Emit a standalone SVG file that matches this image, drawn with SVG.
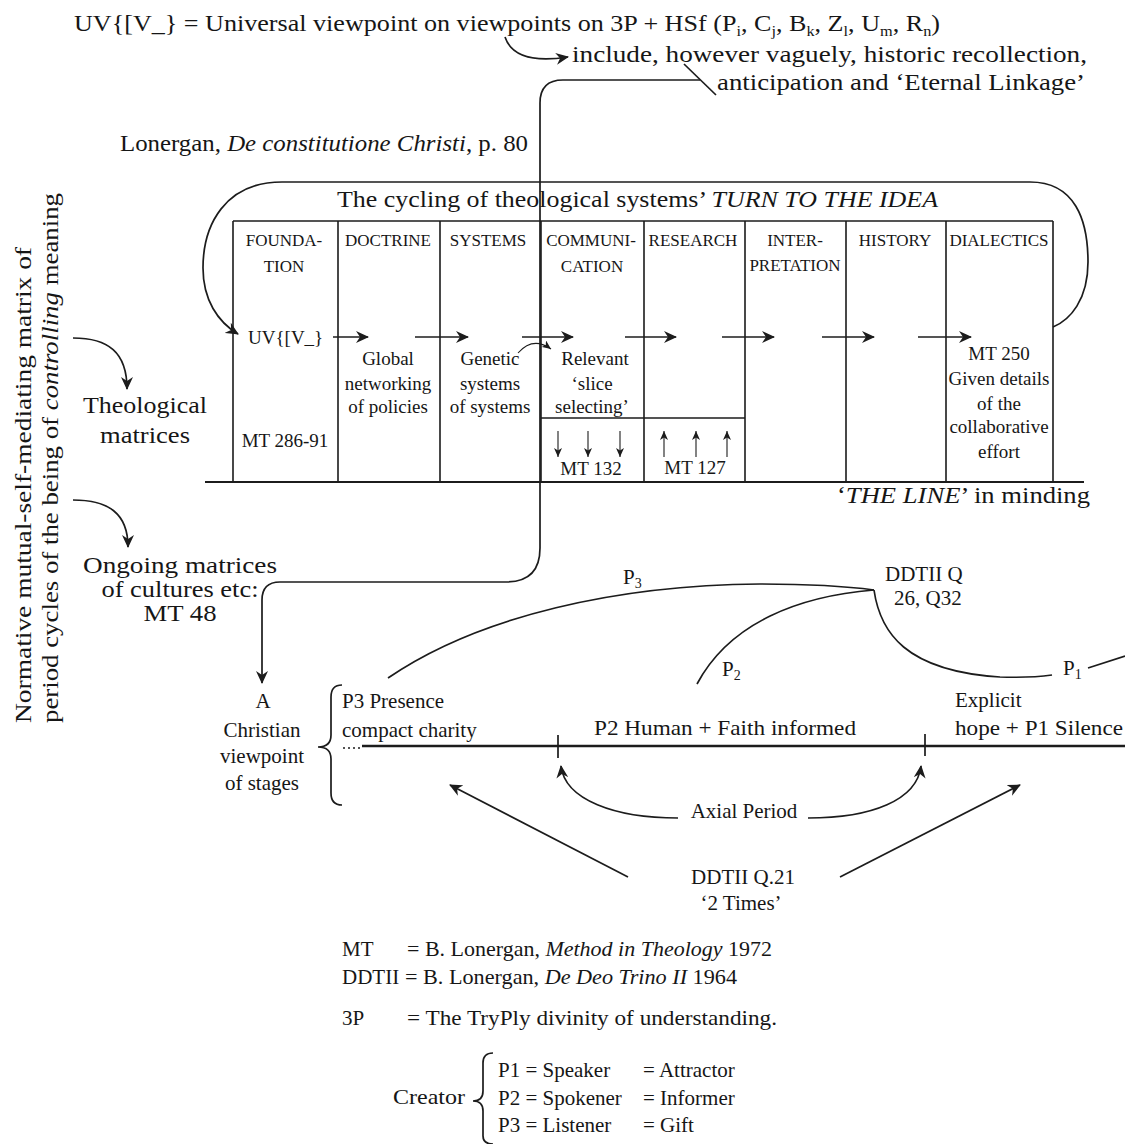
<svg xmlns="http://www.w3.org/2000/svg" width="1125" height="1144" viewBox="0 0 1125 1144">
<defs>
<style>
text{font-family:"Liberation Serif","Times New Roman",serif;fill:#161616}
.m{font-size:24px}
.c{font-size:19px}
.h{font-size:17px}
.s{font-size:21px}
.mid{text-anchor:middle}
.end{text-anchor:end}
.i{font-style:italic}
.ln{fill:none;stroke:#1c1c1c;stroke-width:1.7}
.tb{fill:none;stroke:#1c1c1c;stroke-width:1.6}
.thin{fill:none;stroke:#1c1c1c;stroke-width:1.1}
.ar{marker-end:url(#ah)}
.as{marker-end:url(#ahs)}
</style>
<marker id="ah" markerUnits="userSpaceOnUse" markerWidth="14" markerHeight="12" refX="12" refY="6" orient="auto"><path d="M0,0 L13,6 L0,12 L4,6 Z" fill="#1c1c1c"/></marker>
<marker id="ahs" markerUnits="userSpaceOnUse" markerWidth="10" markerHeight="8" refX="9" refY="4" orient="auto"><path d="M0,0 L9,4 L0,8 L2.5,4 Z" fill="#1c1c1c"/></marker>
</defs>
<rect width="1125" height="1144" fill="#ffffff"/>

<g id="title">
<text class="m" x="74" y="31" textLength="866" lengthAdjust="spacingAndGlyphs">UV{[V_} = Universal viewpoint on viewpoints on 3P + HSf (P<tspan font-size="15" dy="5">i</tspan><tspan dy="-5">, C</tspan><tspan font-size="15" dy="5">j</tspan><tspan dy="-5">, B</tspan><tspan font-size="15" dy="5">k</tspan><tspan dy="-5">, Z</tspan><tspan font-size="15" dy="5">l</tspan><tspan dy="-5">, U</tspan><tspan font-size="15" dy="5">m</tspan><tspan dy="-5">, R</tspan><tspan font-size="15" dy="5">n</tspan><tspan dy="-5">)</tspan></text>
</g>
<g id="note-include">
<text class="m" x="572" y="62" textLength="515" lengthAdjust="spacingAndGlyphs">include, however vaguely, historic recollection,</text>
<text class="m end" x="1085" y="90" textLength="368" lengthAdjust="spacingAndGlyphs">anticipation and ‘Eternal Linkage’</text>
</g>
<g id="source">
<text class="m" x="120" y="151" textLength="408" lengthAdjust="spacingAndGlyphs">Lonergan, <tspan class="i">De constitutione Christi</tspan>, p. 80</text>
</g>

<g id="cycle-title">
<text class="m" x="337" y="207" textLength="601" lengthAdjust="spacingAndGlyphs">The cycling of theological systems’ <tspan class="i">TURN TO THE IDEA</tspan></text>
</g>

<g id="table">
<path class="tb" d="M233,221 H1053 M233,221 V482 M338,221 V482 M440,221 V482 M541,221 V482 M644,221 V482 M745,221 V482 M846,221 V482 M946,221 V482 M1053,221 V482 M541,418 H745"/>
<path fill="none" stroke="#1c1c1c" stroke-width="2.2" d="M205,482 H1084"/>
</g>

<g id="col-foundation">
<text class="h mid" x="284" y="246">FOUNDA-</text>
<text class="h mid" x="284" y="272">TION</text>
<text class="c" x="248" y="344" font-size="20">UV{[V_}</text>
<text class="c mid" x="285" y="447">MT 286-91</text>
</g>
<g id="col-doctrine">
<text class="h mid" x="388" y="246">DOCTRINE</text>
<text class="c mid" x="388" y="365">Global</text>
<text class="c mid" x="388" y="390">networking</text>
<text class="c mid" x="388" y="413">of policies</text>
</g>
<g id="col-systems">
<text class="h mid" x="488" y="246">SYSTEMS</text>
<text class="c mid" x="490" y="365">Genetic</text>
<text class="c mid" x="490" y="390">systems</text>
<text class="c mid" x="490" y="413">of systems</text>
</g>
<g id="col-communication">
<text class="h mid" x="591" y="246">COMMUNI-</text>
<text class="h mid" x="592" y="272">CATION</text>
<text class="c mid" x="595" y="365">Relevant</text>
<text class="c mid" x="592" y="390">‘slice</text>
<text class="c mid" x="592" y="413">selecting’</text>
<text class="c mid" x="591" y="475">MT 132</text>
</g>
<g id="col-research">
<text class="h mid" x="693" y="246">RESEARCH</text>
<text class="c mid" x="695" y="474">MT 127</text>
</g>
<g id="col-interpretation">
<text class="h mid" x="795" y="246">INTER-</text>
<text class="h mid" x="795" y="271">PRETATION</text>
</g>
<g id="col-history">
<text class="h mid" x="895" y="246">HISTORY</text>
</g>
<g id="col-dialectics">
<text class="h mid" x="999" y="246">DIALECTICS</text>
<text class="c mid" x="999" y="360">MT 250</text>
<text class="c mid" x="999" y="385">Given details</text>
<text class="c mid" x="999" y="410">of the</text>
<text class="c mid" x="999" y="433">collaborative</text>
<text class="c mid" x="999" y="458">effort</text>
</g>

<g id="the-line">
<text class="m" x="837" y="503" textLength="253" lengthAdjust="spacingAndGlyphs">‘<tspan class="i">THE LINE</tspan>’ in minding</text>
</g>

<g id="side-label">
<text class="m" transform="translate(31,723) rotate(-90)" textLength="476" lengthAdjust="spacingAndGlyphs">Normative mutual-self-mediating matrix of</text>
<text class="m" transform="translate(58,723) rotate(-90)" textLength="530" lengthAdjust="spacingAndGlyphs">period cycles of the being of <tspan class="i">controlling</tspan> meaning</text>
</g>
<g id="theological-matrices">
<text class="m" x="83" y="413" textLength="124" lengthAdjust="spacingAndGlyphs">Theological</text>
<text class="m mid" x="145" y="443" textLength="90" lengthAdjust="spacingAndGlyphs">matrices</text>
</g>
<g id="ongoing-matrices">
<text class="m mid" x="180" y="573" textLength="194" lengthAdjust="spacingAndGlyphs">Ongoing matrices</text>
<text class="m mid" x="180" y="597" textLength="157" lengthAdjust="spacingAndGlyphs">of cultures etc:</text>
<text class="m mid" x="180" y="621" textLength="73" lengthAdjust="spacingAndGlyphs">MT 48</text>
</g>

<g id="christian-viewpoint">
<text class="s mid" x="263" y="708" font-size="22">A</text>
<text class="s mid" x="262" y="737" font-size="22">Christian</text>
<text class="s mid" x="262" y="763" font-size="22">viewpoint</text>
<text class="s mid" x="262" y="790" font-size="22">of stages</text>
<path class="ln" d="M342,685 Q331,685 331,697 V735 Q331,747 318,747 Q331,747 331,759 V793 Q331,805 342,805"/>
</g>

<g id="stages">
<text class="s" x="342" y="708">P3 Presence</text>
<text class="s" x="342" y="737">compact charity</text>
<text class="s mid" x="725" y="735" textLength="262" lengthAdjust="spacingAndGlyphs">P2 Human + Faith informed</text>
<text class="s" x="955" y="707">Explicit</text>
<text class="s" x="955" y="735" textLength="168" lengthAdjust="spacingAndGlyphs">hope + P1 Silence</text>
<path fill="none" stroke="#1c1c1c" stroke-width="1.6" stroke-dasharray="2,3" d="M343,748 H360"/>
<path fill="none" stroke="#1c1c1c" stroke-width="2.4" d="M362,746 H1125"/>
<path class="ln" d="M558,735 V758 M925,734 V756"/>
</g>

<g id="ddtii-q26">
<text class="s" x="885" y="581">DDTII Q</text>
<text class="s" x="894" y="605">26, Q32</text>
<text class="s" x="623" y="584">P<tspan font-size="14" dy="4">3</tspan></text>
<text class="s" x="722" y="676">P<tspan font-size="14" dy="4">2</tspan></text>
<text class="s" x="1063" y="675">P<tspan font-size="14" dy="4">1</tspan></text>
</g>

<g id="axial-period">
<text class="s mid" x="744" y="818">Axial Period</text>
</g>
<g id="ddtii-q21">
<text class="s mid" x="743" y="884">DDTII Q.21</text>
<text class="s mid" x="741" y="910">‘2 Times’</text>
</g>

<g id="legend">
<text class="s" x="342" y="956">MT</text>
<text class="s" x="407" y="956" textLength="365" lengthAdjust="spacingAndGlyphs">= B. Lonergan, <tspan class="i">Method in Theology</tspan> 1972</text>
<text class="s" x="342" y="984">DDTII</text>
<text class="s" x="405" y="984" textLength="332" lengthAdjust="spacingAndGlyphs">= B. Lonergan, <tspan class="i">De Deo Trino II</tspan> 1964</text>
<text class="s" x="342" y="1025">3P</text>
<text class="s" x="407" y="1025" textLength="370" lengthAdjust="spacingAndGlyphs">= The TryPly divinity of understanding.</text>
<text class="s" x="393" y="1104" textLength="72" lengthAdjust="spacingAndGlyphs">Creator</text>
<path class="ln" d="M493,1053 Q483,1053 483,1063 V1091 Q483,1101 473,1101 Q483,1101 483,1111 V1136 Q483,1144 493,1144"/>
<text class="s" x="498" y="1077">P1 = Speaker</text>
<text class="s" x="643" y="1077">= Attractor</text>
<text class="s" x="498" y="1105">P2 = Spokener</text>
<text class="s" x="643" y="1105">= Informer</text>
<text class="s" x="498" y="1132">P3 = Listener</text>
<text class="s" x="643" y="1132">= Gift</text>
</g>

<g id="connectors">
<path class="ln ar" d="M505,37 C512,58 536,62 568,57"/>
<path class="ln" d="M684,64 L716,95"/>
<path class="ln ar" d="M700,80 H563 Q540,80 540,103 V548 Q540,582 506,582 H280 Q262,582 262,600 V683"/>
<path class="ln ar" d="M1053,327 C1070,320 1088,300 1088,262 C1088,220 1075,182 1030,182 H282 C225,182 203,225 203,268 C203,300 218,322 238,334"/>
<path class="ln ar" d="M333,337 H368"/>
<path class="ln ar" d="M415,337 H468"/>
<path class="ln ar" d="M522,337 H573"/>
<path class="ln ar" d="M625,337 H676"/>
<path class="ln ar" d="M722,337 H774"/>
<path class="ln ar" d="M822,337 H874"/>
<path class="ln ar" d="M918,337 H971"/>
<path class="thin as" d="M518,353 Q533,336 551,349"/>
<path class="thin as" d="M558,431 V457"/>
<path class="thin as" d="M588,431 V457"/>
<path class="thin as" d="M620,431 V457"/>
<path class="thin as" d="M664,457 V431"/>
<path class="thin as" d="M696,457 V431"/>
<path class="thin as" d="M727,457 V431"/>
<path class="ln ar" d="M73,338 C108,338 127,352 127,389"/>
<path class="ln ar" d="M73,500 C108,500 128,513 128,547"/>
<path class="ln" d="M388,678 C480,615 620,585 760,584 C820,584 852,587 874,590"/>
<path class="ln" d="M697,684 C730,622 800,596 874,590"/>
<path class="ln" d="M874,590 C880,632 905,671 1000,677 Q1030,678 1052,675"/>
<path class="ln" d="M1088,668 L1125,656"/>
<path class="ln ar" d="M678,818 C615,818 565,800 561,766"/>
<path class="ln ar" d="M808,818 C872,818 917,800 921,766"/>
<path class="ln ar" d="M628,877 L450,785"/>
<path class="ln ar" d="M840,877 L1020,785"/>
</g>
</svg>
